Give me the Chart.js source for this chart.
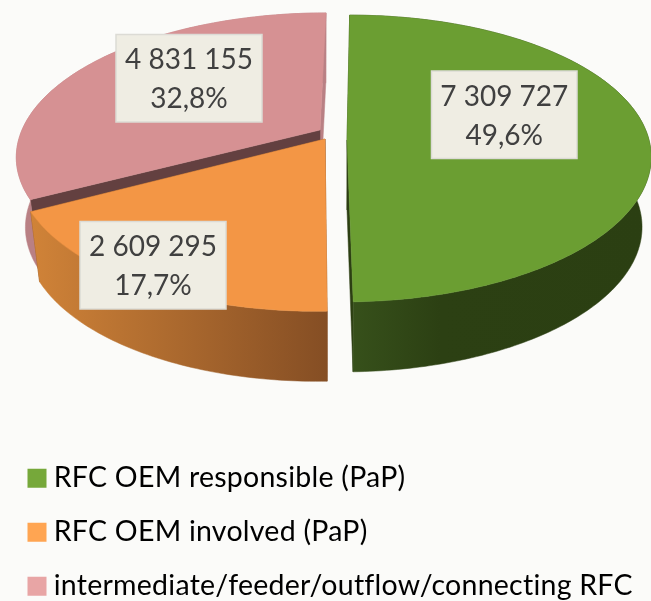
<!DOCTYPE html>
<html><head><meta charset="utf-8">
<style>html,body{margin:0;padding:0;background:#fbfbf9}canvas{display:block}</style>
<script src="https://cdn.jsdelivr.net/npm/chart.js@4/dist/chart.umd.min.js"></script>
</head><body><canvas id="c" width="651" height="601"></canvas>
<script>
const categories = ['RFC OEM responsible (PaP)','RFC OEM involved (PaP)','intermediate/feeder/outflow/connecting RFC'];
const seriesValues = [7309727, 2609295, 4831155];
const percentLabels = ['49,6%','17,7%','32,8%'];
const valueLabels = ['7 309 727','2 609 295','4 831 155'];
const legendColors = ['#76a83a','#ffa552','#e8a5a5'];
const topColors = ['#6b9e32','#f39645','#d69193'];

// 3D view of each slice (perspective projection + explode)
const VIEW = [
 {cx:347,cy:140,rx:302,ry:141,k:.129,s:-3, wall:'#2c3f13', side:[[0,'#37511b'],[.3,'#2c4013'],[1,'#2b3f12']]},
 {cx:325,cy:139,rx:303,ry:143,k:.17,s:-6.6,wall:'#854e24', side:[[0,'#d08338'],[1,'#854e24']]},
 {cx:320,cy:130,rx:298,ry:137,k:.17,s:-7, wall:'#634040', wall2:'#b98084', side:[[0,'#b98084'],[1,'#b98084']]}
];
const DEPTH = 70, TAPER = .97;
const DRAW_ORDER = [2,0,1];
const BOXES = [{x:431.5,y:71,w:145.5,h:87.5},{x:80,y:221.5,w:146,h:87.5},{x:116,y:34.5,w:146,h:87.5}];
const LABEL_FONT = '28px Lato';
const LEGEND_LEFT = 9, LEGEND_TOP = 438.5;

function proj(v,a,low){
  const u=Math.cos(a), t=Math.sin(a), w=1-v.k*t;
  let x=(v.rx*u+v.s*t)/w, y=v.cy+v.ry*t/w;
  if(low){x*=TAPER;y+=DEPTH;}
  return [v.cx+x,y];
}
function center(v,low){return [v.cx,v.cy+(low?DEPTH:0)];}
function poly(ctx,pts,fill){
  ctx.beginPath();pts.forEach((p,i)=>i?ctx.lineTo(p[0],p[1]):ctx.moveTo(p[0],p[1]));
  ctx.closePath();ctx.fillStyle=fill;ctx.strokeStyle=fill;ctx.lineWidth=.5;ctx.fill();ctx.stroke();
}
const pie3d = {
  id:'pie3d',
  afterLayout(chart){
    const l=chart.legend;
    l.left=LEGEND_LEFT; l.right=651; l.top=LEGEND_TOP; l.bottom=900;
  },
  beforeDraw(chart){ chart.ctx.letterSpacing='0.25px'; },
  beforeDatasetDraw(chart){
    const ctx=chart.ctx, arcs=chart.getDatasetMeta(0).data;
    ctx.save();
    DRAW_ORDER.forEach(i=>{
      const v=VIEW[i], a0=arcs[i].startAngle, a1=arcs[i].endAngle;
      const n=Math.max(8,Math.ceil((a1-a0)*60)), top=[], low=[];
      for(let j=0;j<=n;j++){const a=a0+(a1-a0)*j/n;top.push(proj(v,a,false));low.push(proj(v,a,true));}
      const c=center(v,false), cl=center(v,true);
      poly(ctx,[c,top[n],low[n],cl],v.wall2||v.wall);
      poly(ctx,[c,top[0],low[0],cl],v.wall);
      const xs=top.concat(low).map(p=>p[0]), minX=Math.min(...xs), maxX=Math.max(...xs);
      const g=ctx.createLinearGradient(minX,0,maxX,0);
      v.side.forEach(s=>g.addColorStop(s[0],s[1]));
      poly(ctx,top.concat(low.slice().reverse()),g);
      poly(ctx,[c].concat(top),topColors[i]);
    });
    ctx.restore();
    return false;
  },
  afterDatasetsDraw(chart){
    const ctx=chart.ctx;
    ctx.save();
    ctx.letterSpacing='0px';
    ctx.textAlign='center';ctx.textBaseline='middle';ctx.font=LABEL_FONT;
    BOXES.forEach((b,i)=>{
      ctx.fillStyle='#efede3';ctx.fillRect(b.x,b.y,b.w,b.h);
      ctx.strokeStyle='#dcdbd5';ctx.lineWidth=1.5;ctx.strokeRect(b.x,b.y,b.w,b.h);
      ctx.fillStyle='#404040';
      ctx.fillText(valueLabels[i],b.x+b.w/2,b.y+25.5);
      ctx.fillText(percentLabels[i],b.x+b.w/2,b.y+64.5);
    });
    ctx.restore();
  }
};
new Chart(document.getElementById('c'),{
  type:'pie',
  data:{labels:categories,datasets:[{data:seriesValues,backgroundColor:topColors,borderWidth:0}]},
  options:{
    responsive:false,animation:false,rotation:0,
    plugins:{
      tooltip:{enabled:false},
      legend:{position:'left',align:'start',
        labels:{boxWidth:5,boxHeight:5,padding:25.5,color:'#595959',font:{family:'Lato',size:28.5},
          generateLabels:()=>categories.map((t,i)=>({text:t,fillStyle:legendColors[i],strokeStyle:legendColors[i],lineWidth:14,index:i,hidden:false}))}}
    }
  },
  plugins:[pie3d]
});
</script></body></html>
